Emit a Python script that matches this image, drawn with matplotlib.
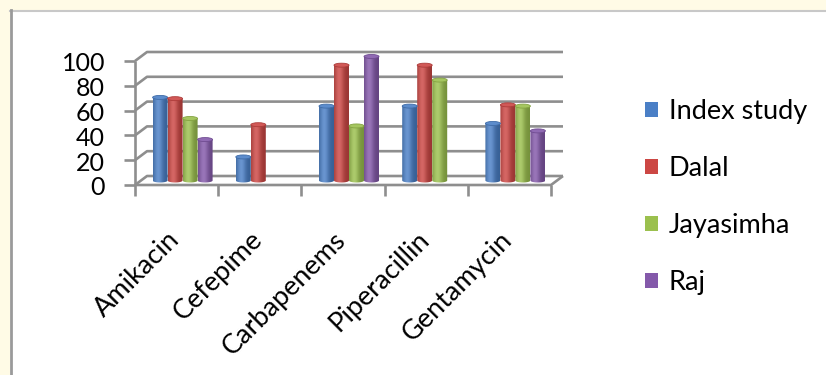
import numpy as np
import matplotlib.pyplot as plt
from matplotlib.patches import Rectangle, Ellipse, Patch, Polygon
from matplotlib.lines import Line2D
from matplotlib.colors import to_rgb

categories = ['Amikacin', 'Cefepime', 'Carbapenems', 'Piperacillin', 'Gentamycin']
series_names = ['Index study', 'Dalal', 'Jayasimha', 'Raj']
index_study = [67, 19, 60, 60, 46]
dalal = [66, 45, 93, 93, 61]
jayasimha = [50, np.nan, 44, 81, 60]
raj = [33, np.nan, 100, np.nan, 40]
y_ticks = [0, 20, 40, 60, 80, 100]

colors = ['#4a7fc6', '#cc4744', '#9bc04e', '#8459aa']
grid_color = '#8e8e8e'
tick_size = 18
label_size = 19.5

plt.rcParams['font.family'] = ['Lato', 'DejaVu Sans']

# canvas size and the pixel layout of the fake 3d box
W, H = 826, 375
X0, Y0 = 135, 185          # front-left corner of the floor
CAT_PX = 83.2              # width of one category
VAL_PX = 1.24              # pixels per value unit
DEPTH_X, DEPTH_Y = 12, 9   # how far the back wall is shifted

dx = DEPTH_X / CAT_PX
dy = DEPTH_Y / VAL_PX
bar_w = 15 / CAT_PX
gap = (1 - len(series_names) * bar_w) / 2
cap_h = 4 / VAL_PX


def px_x(p):
    return p / CAT_PX


def px_y(p):
    return p / VAL_PX


def shade(color, n=64):
    # cylinder shading: dark edges, bright band left of centre
    c = np.array(to_rgb(color))
    t = np.linspace(0, 1, n)
    k = np.exp(-((t - 0.35) / 0.3) ** 2)
    dark = 0.76 + 0.24 * k
    rgb = c[None, :] * dark[:, None]
    rgb = rgb + (1 - rgb) * (0.17 * k)[:, None]
    return rgb[None, :, :]


def draw_cylinder(ax, x, base, val, color):
    cx = x + bar_w / 2
    th = np.linspace(np.pi, 2 * np.pi, 40)
    outline = [(x, base + val)]
    outline += list(zip(cx + bar_w / 2 * np.cos(th), base + cap_h / 2 * np.sin(th)))
    outline += [(x + bar_w, base + val)]
    body = Polygon(outline, closed=True, facecolor='none', edgecolor='none')
    ax.add_patch(body)
    im = ax.imshow(shade(color), extent=(x, x + bar_w, base - cap_h, base + val),
                   aspect='auto', interpolation='bilinear', zorder=3)
    im.set_clip_path(body)
    c = np.array(to_rgb(color))
    top = Ellipse((cx, base + val), bar_w, cap_h,
                  facecolor=c + (1 - c) * 0.1, edgecolor=c * 0.85, lw=0.6, zorder=4)
    ax.add_patch(top)


fig = plt.figure(figsize=(W / 100, H / 100), dpi=100, facecolor='#fffbe6')
fig.add_artist(Rectangle((10 / W, 0), 1, 1 - 10 / H, transform=fig.transFigure,
                         facecolor='white', edgecolor='none', zorder=0))
fig.add_artist(Line2D([10 / W, 1], [1 - 11 / H] * 2, color='#c8c8c8', lw=1.5))
fig.add_artist(Line2D([11 / W] * 2, [0, 1 - 10 / H], color='#9a9a9a', lw=2))

ax = fig.add_axes([0, 0, 1, 1])
ax.axis('off')
ax.patch.set_visible(False)

n = len(categories)
line_kw = dict(color=grid_color, lw=1.9, zorder=1, solid_capstyle='butt')

# back wall + left wall gridlines, value axis
for v in y_ticks:
    ax.plot([0, dx, n + dx], [v, v + dy, v + dy], **line_kw)
    ax.plot([-px_x(11), 0], [v, v], **line_kw)
    ax.text(-px_x(30), v - px_y(3), str(v), ha='right', va='center', fontsize=tick_size)
ax.plot([0, 0], [0, y_ticks[-1]], **line_kw)

# floor front and right edges, category ticks
ax.plot([0, n, n + dx], [0, 0, dy], **line_kw)
for k in range(n + 1):
    ax.plot([k, k], [0, -px_y(11)], **line_kw)

for j, name in enumerate(categories):
    ax.text(j + 0.5 - px_x(10), -px_y(42), name, rotation=45, ha='right', va='top',
            rotation_mode='anchor', fontsize=label_size)

series = [index_study, dalal, jayasimha, raj]
for i, (vals, c) in enumerate(zip(series, colors)):
    for j, v in enumerate(vals):
        if np.isnan(v):
            continue
        draw_cylinder(ax, j + dx / 2 + gap + i * bar_w, dy / 2, v, c)

handles = [Patch(facecolor=c) for c in colors]
ax.legend(handles, series_names, loc='upper left', bbox_to_anchor=(645 / W, 1 - 99 / H),
          frameon=False, fontsize=label_size, handlelength=0.48, handleheight=0.48,
          handletextpad=0.4, labelspacing=1.18, borderpad=0, borderaxespad=0)

ax.set_xlim(-X0 / CAT_PX, (W - X0) / CAT_PX)
ax.set_ylim((Y0 - H) / VAL_PX, Y0 / VAL_PX)

fig.savefig('out.png', dpi=100, facecolor=fig.get_facecolor())
